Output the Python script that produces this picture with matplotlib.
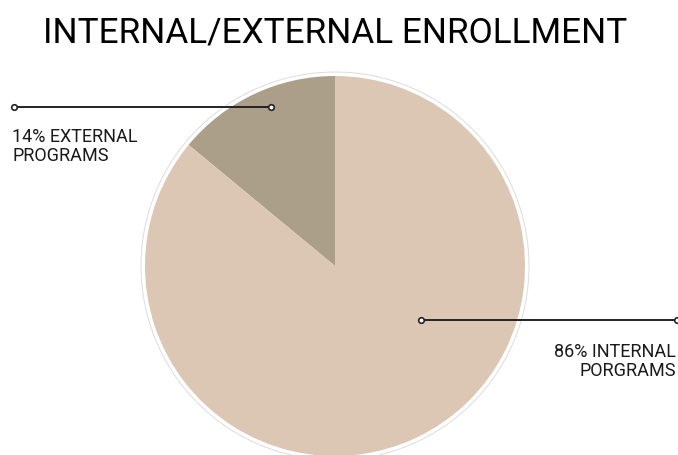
import matplotlib.pyplot as plt
from matplotlib.patches import Circle

labels = ['14% EXTERNAL\nPROGRAMS', '86% INTERNAL\nPORGRAMS']
shares = [14, 86]
colors = ['#ab9f89', '#dcc7b5']

W, H = 678, 456
fig = plt.figure(figsize=(W/100, H/100), dpi=100)
ax = fig.add_axes([0, 0, 1, 1])

cx, cy, r = 335, 189, 190
ax.pie(shares, colors=colors, startangle=90, counterclock=True,
       center=(cx, cy), radius=r, frame=True,
       wedgeprops=dict(linewidth=0))
ax.set_xlim(0, W)
ax.set_ylim(0, H)
ax.set_aspect('equal')
ax.axis('off')
ax.add_patch(Circle((cx, cy), r + 4, fill=False, ec='#dcdcdc', lw=0.7))

# leader lines
ax.plot([14, 271], [348, 348], color='#222222', lw=1.4, marker='o',
        ms=4, mfc='white', mec='#222222', mew=1.2)
ax.plot([421, 677], [135, 135], color='#222222', lw=1.4, marker='o',
        ms=4, mfc='white', mec='#222222', mew=1.2, clip_on=False)

ax.text(12, 328, labels[0], ha='left', va='top', fontsize=13,
        family='Roboto', color='#1a1a1a', linespacing=1.1)
ax.text(676, 113, labels[1], ha='right', va='top', fontsize=13,
        family='Roboto', color='#1a1a1a', linespacing=1.1, multialignment='right')

ax.text(335, 423, 'INTERNAL/EXTERNAL ENROLLMENT', ha='center', va='center',
        fontsize=25.3, family='Roboto', color='#000000')

fig.savefig('out.png', dpi=100)
